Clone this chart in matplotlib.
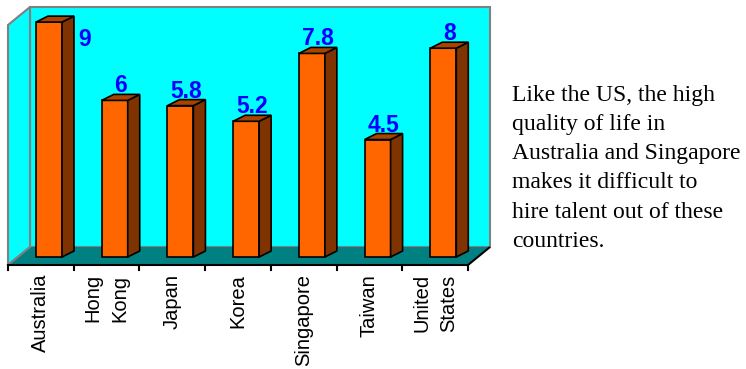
import matplotlib

matplotlib.use("Agg")
import matplotlib.pyplot as plt
from matplotlib.patches import Polygon

countries = ["Australia", "Hong\nKong", "Japan", "Korea", "Singapore", "Taiwan", "United\nStates"]
scores = [9, 6, 5.8, 5.2, 7.8, 4.5, 8]
note_lines = [
    "Like the US, the high",
    "quality of life in",
    "Australia and Singapore",
    "makes it difficult to",
    "hire talent out of these",
    "countries.",
]

W, H = 746, 369
fig = plt.figure(figsize=(W / 100, H / 100), dpi=100)
fig.patch.set_facecolor("white")

# plot box in pixels (front floor edge to top of back wall)
left_px, right_px = 8, 489
bottom_px, top_px = 265, 7
ax = fig.add_axes([left_px / W, 1 - bottom_px / H,
                   (right_px - left_px) / W, (bottom_px - top_px) / H])
ax.axis("off")

n = len(countries)
cat_px = 460 / n
unit_px = 26.1


def px(dx, dy):
    """pixel offset -> data offset"""
    return dx / cat_px, dy / unit_px


x0 = -0.5
xr = n - 0.5
y_floor = -8 / unit_px
ax.set_xlim(x0, x0 + (right_px - left_px) / cat_px)
y_top = y_floor + (bottom_px - top_px) / unit_px
ax.set_ylim(y_floor, y_top)

wall_c = "#00FFFF"
floor_c = "#008080"
frame_c = "#808080"
wdx, wdy = px(22, 18)

# walls and floor
ax.add_patch(Polygon([(x0 + wdx, y_floor + wdy), (xr + wdx, y_floor + wdy),
                      (xr + wdx, y_top), (x0 + wdx, y_top)],
                     closed=True, facecolor=wall_c, edgecolor=frame_c, lw=1.5, clip_on=False))
ax.add_patch(Polygon([(x0, y_floor), (x0 + wdx, y_floor + wdy),
                      (x0 + wdx, y_top), (x0, y_top - wdy)],
                     closed=True, facecolor=wall_c, edgecolor=frame_c, lw=1.5, clip_on=False))
ax.add_patch(Polygon([(x0, y_floor), (xr, y_floor),
                      (xr + wdx, y_floor + wdy), (x0 + wdx, y_floor + wdy)],
                     closed=True, facecolor=floor_c, edgecolor="none", clip_on=False))
ax.plot([x0, x0 + wdx], [y_floor, y_floor + wdy], color=frame_c, lw=1.5, clip_on=False)
ax.plot([x0, xr, xr + wdx], [y_floor, y_floor, y_floor + wdy], color="black", lw=1.5,
        clip_on=False, solid_capstyle="butt")

# category ticks under the floor edge
tick_len = px(0, 5)[1]
for k in range(n + 1):
    ax.plot([k - 0.5, k - 0.5], [y_floor, y_floor - tick_len], color="black", lw=1.5,
            clip_on=False)

# bars: front, right side and top faces
off = px(28, 0)[0]
bw = px(26, 0)[0]
sdx, sdy = px(12, 6)
front_c, side_c, top_c = "#FF6600", "#7F3300", "#A84400"
lab_gap = px(0, 8)[1]

for i, (name, v) in enumerate(zip(countries, scores)):
    xl = i - 0.5 + off
    xb = xl + bw
    ax.add_patch(Polygon([(xl, 0), (xb, 0), (xb, v), (xl, v)], closed=True,
                         facecolor=front_c, edgecolor="black", lw=1.2, zorder=3))
    ax.add_patch(Polygon([(xb, 0), (xb + sdx, sdy), (xb + sdx, v + sdy), (xb, v)], closed=True,
                         facecolor=side_c, edgecolor="black", lw=1.2, zorder=3))
    ax.add_patch(Polygon([(xl, v), (xb, v), (xb + sdx, v + sdy), (xl + sdx, v + sdy)],
                         closed=True, facecolor=top_c, edgecolor="black", lw=1.2, zorder=3))

    label = f"{v:g}"
    if v + lab_gap + px(0, 18)[1] > y_top:
        # no room above the bar: put the value beside it
        ax.text(xb + sdx + px(4, 0)[0], v - px(0, 24)[1], label, ha="left", va="baseline",
                color="#0000FF", fontsize=16.5, fontweight="bold",
                fontfamily="Liberation Sans", zorder=4)
    else:
        ax.text(xl + (bw + sdx) / 2, v + lab_gap, label, ha="center", va="baseline",
                color="#0000FF", fontsize=16.5, fontweight="bold",
                fontfamily="Liberation Sans", zorder=4)

    ax.text(i, y_floor - px(0, 9)[1], name, rotation=90, ha="center", va="top",
            multialignment="center", fontsize=14.5, fontfamily="Liberation Sans",
            linespacing=1.55, clip_on=False)

# side note
for k, line in enumerate(note_lines):
    fig.text(512 / W, 1 - (100.7 + 29.2 * k) / H, line, ha="left", va="baseline",
             fontsize=17, fontfamily="Liberation Serif", color="black")

fig.savefig("out.png", dpi=100)
